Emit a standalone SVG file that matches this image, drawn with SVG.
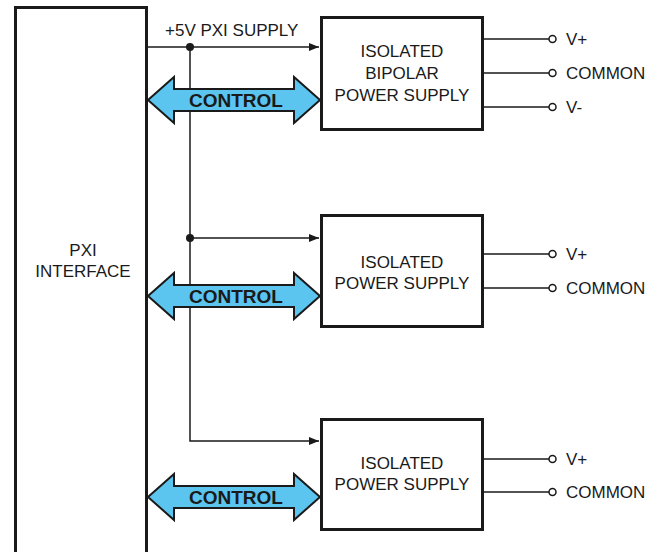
<svg xmlns="http://www.w3.org/2000/svg" width="659" height="552" viewBox="0 0 659 552">
<style>
.box{fill:#fff;stroke:#1a1a1a;stroke-width:3}
.ln{fill:none;stroke:#1a1a1a;stroke-width:1.5}
.ctl{fill:#5bc5ef;stroke:#1a1a1a;stroke-width:2;stroke-linejoin:miter}
.t{font-family:"Liberation Sans",Arial,sans-serif;font-size:17px;fill:#1a1a1a}
.tc{text-anchor:middle}
.b{font-family:"Liberation Sans",Arial,sans-serif;font-size:19px;font-weight:bold;fill:#1a1a1a;text-anchor:middle}
.term{fill:#fff;stroke:#1a1a1a;stroke-width:1.5}
</style>
<defs>
<marker id="ah" viewBox="0 0 10 8" refX="10" refY="4" markerWidth="10" markerHeight="8" markerUnits="userSpaceOnUse" orient="auto">
<path d="M0,0 L10,4 L0,8 Z" fill="#1a1a1a"/>
</marker>
</defs>
<g id="pxi">
<rect class="box" x="15.5" y="7.5" width="131" height="560"/>
<text class="t tc" x="83" y="256">PXI</text>
<text class="t tc" x="83" y="277">INTERFACE</text>
</g>
<g id="connectors">
<path class="ln" d="M147,47 H319" marker-end="url(#ah)"/>
<path class="ln" d="M190,47 V441 H319" marker-end="url(#ah)"/>
<path class="ln" d="M190,238 H319" marker-end="url(#ah)"/>
<circle cx="190" cy="47" r="4" fill="#1a1a1a"/>
<circle cx="190" cy="238" r="4" fill="#1a1a1a"/>
<text class="t" x="165" y="36">+5V PXI SUPPLY</text>
<path class="ln" d="M483,39 H549 M483,73 H549 M483,107 H549 M483,254 H549 M483,288 H549 M483,459 H549 M483,492 H549"/>
<circle class="term" cx="552.5" cy="39" r="3.5"/>
<circle class="term" cx="552.5" cy="73" r="3.5"/>
<circle class="term" cx="552.5" cy="107" r="3.5"/>
<circle class="term" cx="552.5" cy="254" r="3.5"/>
<circle class="term" cx="552.5" cy="288" r="3.5"/>
<circle class="term" cx="552.5" cy="459" r="3.5"/>
<circle class="term" cx="552.5" cy="492" r="3.5"/>
<text class="t" x="566" y="45">V+</text>
<text class="t" x="566" y="79">COMMON</text>
<text class="t" x="566" y="113">V-</text>
<text class="t" x="566" y="260">V+</text>
<text class="t" x="566" y="294">COMMON</text>
<text class="t" x="566" y="465">V+</text>
<text class="t" x="566" y="498">COMMON</text>
</g>
<g id="control1">
<path class="ctl" d="M148,100 L174,77 V89 H294 V77 L320,100 L294,123 V111 H174 V123 Z"/>
<text class="b" x="236" y="107">CONTROL</text>
</g>
<g id="control2">
<path class="ctl" d="M148,296 L174,273 V285 H294 V273 L320,296 L294,319 V307 H174 V319 Z"/>
<text class="b" x="236" y="303">CONTROL</text>
</g>
<g id="control3">
<path class="ctl" d="M148,497 L174,474 V486 H294 V474 L320,497 L294,520 V508 H174 V520 Z"/>
<text class="b" x="236" y="504">CONTROL</text>
</g>
<g id="psu1">
<rect class="box" x="321.5" y="17.5" width="161" height="112"/>
<text class="t tc" x="402" y="57">ISOLATED</text>
<text class="t tc" x="402" y="79">BIPOLAR</text>
<text class="t tc" x="402" y="101">POWER SUPPLY</text>
</g>
<g id="psu2">
<rect class="box" x="321.5" y="215.5" width="161" height="111"/>
<text class="t tc" x="402" y="268">ISOLATED</text>
<text class="t tc" x="402" y="289">POWER SUPPLY</text>
</g>
<g id="psu3">
<rect class="box" x="321.5" y="419.5" width="161" height="110"/>
<text class="t tc" x="402" y="469">ISOLATED</text>
<text class="t tc" x="402" y="490">POWER SUPPLY</text>
</g>
</svg>
